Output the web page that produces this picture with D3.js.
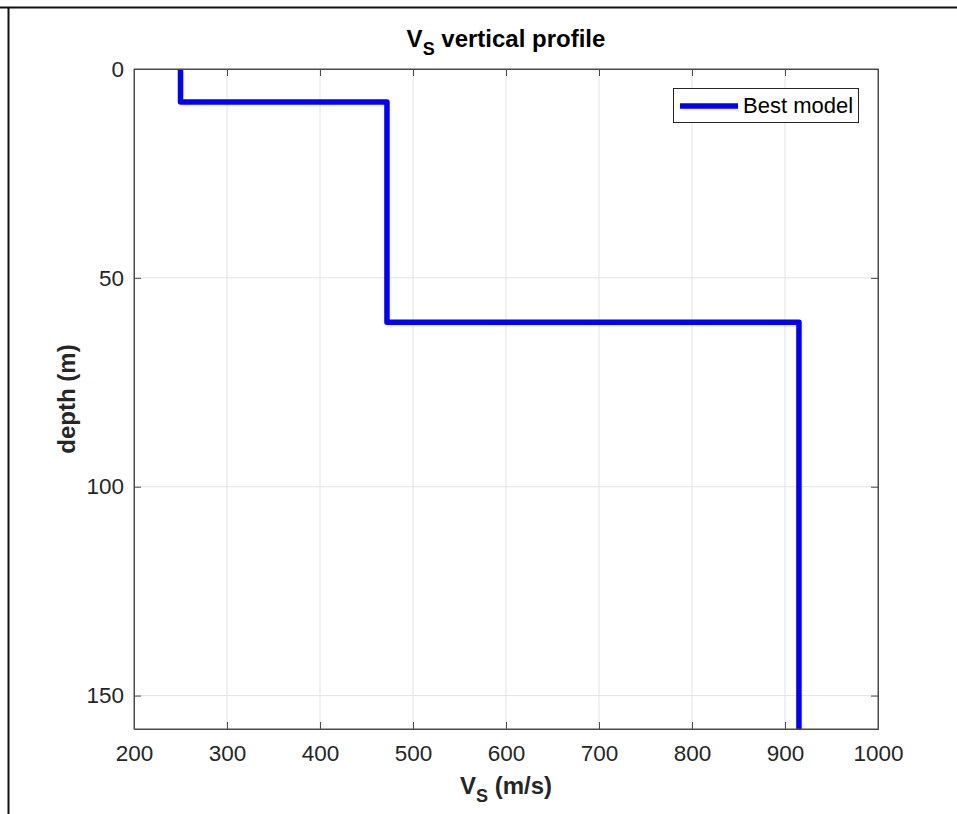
<!DOCTYPE html>
<html>
<head>
<meta charset="utf-8">
<script src="https://cdn.jsdelivr.net/npm/d3@7"></script>
<style>
  body { margin: 0; background: #fff; }
  svg { display: block; font-family: 'Liberation Sans', Arial, sans-serif; }
</style>
</head>
<body>
<script>
const [w, h] = [957, 814];
const margin = { top: 69, right: 79, bottom: 85, left: 134 };

// layer model
const layerTop = [0, 7.9, 60.6];
const vsLayer = [250, 472, 915];
const maxDepth = 158;

const xTicks = [200, 300, 400, 500, 600, 700, 800, 900, 1000];
const yTicks = [0, 50, 100, 150];

const iw = w - margin.left - margin.right;
const ih = h - margin.top - margin.bottom;

const x = d3.scaleLinear().domain([200, 1000]).range([0, iw]);
const y = d3.scaleLinear().domain([0, maxDepth]).range([0, ih]);

const svg = d3.select('body').append('svg')
  .attr('width', w)
  .attr('height', h);

// figure frame (top and left edge only)
svg.append('line').attr('x1', 0).attr('x2', w).attr('y1', 7.5).attr('y2', 7.5)
  .attr('stroke', '#111').attr('stroke-width', 2);
svg.append('line').attr('x1', 8.5).attr('x2', 8.5).attr('y1', 7).attr('y2', h)
  .attr('stroke', '#111').attr('stroke-width', 2);

const g = svg.append('g').attr('transform', `translate(${margin.left},${margin.top})`);

// grid
g.append('g').selectAll('line').data(xTicks.slice(1, -1)).enter().append('line')
  .attr('x1', d => x(d)).attr('x2', d => x(d)).attr('y1', 0).attr('y2', ih)
  .attr('stroke', '#e3e3e3').attr('stroke-width', 1);
g.append('g').selectAll('line').data(yTicks.slice(1)).enter().append('line')
  .attr('x1', 0).attr('x2', iw).attr('y1', d => y(d)).attr('y2', d => y(d))
  .attr('stroke', '#e3e3e3').attr('stroke-width', 1);

// step profile
const pts = [];
vsLayer.forEach((v, i) => {
  const bot = i < vsLayer.length - 1 ? layerTop[i + 1] : maxDepth;
  pts.push([v, layerTop[i]]);
  pts.push([v, bot]);
});

g.append('clipPath').attr('id', 'clip').append('rect')
  .attr('width', iw).attr('height', ih);

g.append('path')
  .datum(pts)
  .attr('clip-path', 'url(#clip)')
  .attr('fill', 'none')
  .attr('stroke', '#0000ff')
  .attr('stroke-width', 5.5)
  .attr('stroke-linejoin', 'round')
  .attr('d', d3.line().x(d => x(d[0])).y(d => y(d[1])));

// axes, ticks pointing inward, box on all sides
const axisColor = '#4a4a4a';
const fmt = d3.format('d');
const styleAxis = (sel) => {
  sel.select('.domain').attr('stroke', axisColor);
  sel.selectAll('.tick line').attr('stroke', axisColor);
  sel.selectAll('.tick text').attr('fill', '#262626').attr('font-size', 22.5)
    .attr('font-family', "'Liberation Sans', Arial, sans-serif");
};

g.append('g').attr('transform', `translate(0,${ih})`)
  .call(d3.axisBottom(x).tickValues(xTicks).tickFormat(fmt).tickSizeInner(-7).tickSizeOuter(0).tickPadding(16))
  .call(styleAxis);
g.append('g').attr('transform', 'translate(0,0)')
  .call(d3.axisTop(x).tickValues(xTicks).tickSizeInner(-7).tickSizeOuter(0).tickFormat(''))
  .call(styleAxis);
g.append('g')
  .call(d3.axisLeft(y).tickValues(yTicks).tickFormat(fmt).tickSizeInner(-7).tickSizeOuter(0).tickPadding(10))
  .call(styleAxis);
g.append('g').attr('transform', `translate(${iw},0)`)
  .call(d3.axisRight(y).tickValues(yTicks).tickSizeInner(-7).tickSizeOuter(0).tickFormat(''))
  .call(styleAxis);

// right and bottom box edges
g.append('rect').attr('width', iw).attr('height', ih)
  .attr('fill', 'none').attr('stroke', axisColor).attr('stroke-width', 1);

// title
const title = svg.append('text')
  .attr('x', margin.left + iw / 2)
  .attr('y', 47)
  .attr('text-anchor', 'middle')
  .attr('font-size', 24)
  .attr('font-weight', 'bold')
  .attr('fill', '#000');
title.append('tspan').text('V');
title.append('tspan').attr('dy', 8).attr('font-size', 18).text('S');
title.append('tspan').attr('dy', -8).text(' vertical profile');

// x label
const xl = svg.append('text')
  .attr('x', margin.left + iw / 2)
  .attr('y', 794)
  .attr('text-anchor', 'middle')
  .attr('font-size', 24)
  .attr('font-weight', 'bold')
  .attr('fill', '#262626');
xl.append('tspan').text('V');
xl.append('tspan').attr('dy', 8).attr('font-size', 18).text('S');
xl.append('tspan').attr('dy', -8).text(' (m/s)');

// y label
svg.append('text')
  .attr('transform', `translate(75,${margin.top + ih / 2}) rotate(-90)`)
  .attr('text-anchor', 'middle')
  .attr('font-size', 24)
  .attr('font-weight', 'bold')
  .attr('fill', '#262626')
  .text('depth (m)');

// legend
const legend = svg.append('g').attr('transform', 'translate(673,88)');
legend.append('rect')
  .attr('x', 0.5).attr('y', 0.5).attr('width', 185).attr('height', 34)
  .attr('fill', '#fff').attr('stroke', '#262626').attr('stroke-width', 1);
legend.append('line')
  .attr('x1', 7).attr('x2', 65).attr('y1', 18).attr('y2', 18)
  .attr('stroke', '#0000ff').attr('stroke-width', 5.5);
legend.append('text')
  .attr('x', 70).attr('y', 25)
  .attr('font-size', 22)
  .attr('fill', '#000')
  .text('Best model');
</script>
</body>
</html>
